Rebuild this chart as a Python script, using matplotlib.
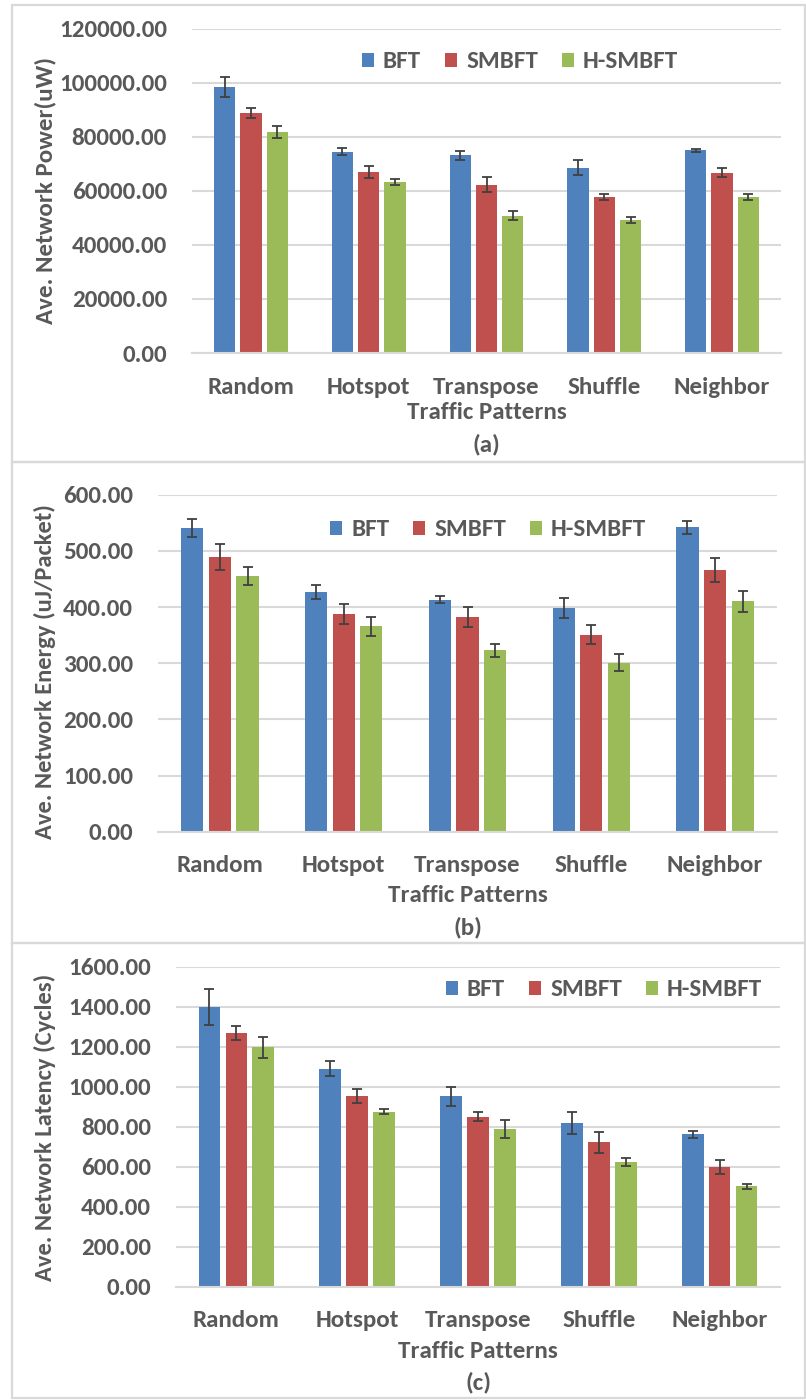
import matplotlib
matplotlib.use("Agg")
import matplotlib.pyplot as plt
from matplotlib import font_manager
from matplotlib.patches import Rectangle, Patch
import numpy as np

# ---- data -------------------------------------------------------------
patterns = ["Random", "Hotspot", "Transpose", "Shuffle", "Neighbor"]
schemes = ["BFT", "SMBFT", "H-SMBFT"]

power_bft = [98300, 74400, 73100, 68600, 75000]
power_smbft = [88800, 67000, 62300, 57800, 66700]
power_hsmbft = [81900, 63300, 50800, 49300, 57600]
power_bft_err = [3700, 1300, 1700, 2900, 500]
power_smbft_err = [1900, 2200, 2800, 1050, 1700]
power_hsmbft_err = [2200, 1100, 1700, 1200, 1150]

energy_bft = [541, 427, 413, 398, 542]
energy_smbft = [489, 388, 382, 351, 466]
energy_hsmbft = [456, 366, 323, 301, 410]
energy_bft_err = [16, 13, 6, 18, 12]
energy_smbft_err = [23, 18, 18, 17, 21]
energy_hsmbft_err = [16, 17, 12, 15, 18]

latency_bft = [1400, 1090, 952, 820, 762]
latency_smbft = [1267, 955, 850, 722, 600]
latency_hsmbft = [1197, 875, 788, 623, 502]
latency_bft_err = [90, 37, 48, 54, 18]
latency_smbft_err = [35, 36, 23, 53, 34]
latency_hsmbft_err = [52, 12, 46, 20, 12]

power_ticks = [0, 20000, 40000, 60000, 80000, 100000, 120000]
energy_ticks = [0, 100, 200, 300, 400, 500, 600]
latency_ticks = [0, 200, 400, 600, 800, 1000, 1200, 1400, 1600]

# ---- style ------------------------------------------------------------
COLORS = ["#4F81BD", "#C0504D", "#9BBB59"]
TEXT = "#595959"
GRID = "#D9D9D9"
ERR = "#404040"

available = {f.name for f in font_manager.fontManager.ttflist}
narrow_choices = [("Carlito", 18), ("Liberation Sans Narrow", 19),
                  ("Roboto Condensed", 17.5), ("Lato", 16), ("DejaVu Sans", 14)]
for name, size in narrow_choices:
    if name in available:
        NARROW, NSIZE = name, size
        break

W, H = 806, 1400
fig = plt.figure(figsize=(W / 100, H / 100), dpi=100)
fig.patch.set_facecolor("white")


def fx(px):
    return px / W


def fy(py):
    return 1 - py / H


def panel(box, ax_box, values, errors, ticks, ylabel, ylabel_y, ylabel_size,
          legend_xy, xlabel_y, letter, letter_y):
    # outer frame of the panel
    top, bottom = box
    fig.add_artist(Rectangle((fx(12), fy(bottom)), fx(805) - fx(12),
                             fy(top) - fy(bottom), transform=fig.transFigure,
                             fill=False, edgecolor=GRID, lw=1.6))
    left, right, atop, abot = ax_box
    ax = fig.add_axes([fx(left), fy(abot), fx(right) - fx(left),
                       fy(atop) - fy(abot)])
    x = np.arange(len(patterns))
    width, step = 0.18, 0.223
    for i, (vals, errs) in enumerate(zip(values, errors)):
        ax.bar(x + (i - 1) * step, vals, width, color=COLORS[i],
               yerr=errs, label=schemes[i], zorder=2,
               error_kw=dict(ecolor=ERR, elinewidth=1.3, capsize=3.5,
                             capthick=1.3, zorder=3))
    ax.set_xlim(-0.5, len(patterns) - 0.5)
    ax.set_ylim(ticks[0], ticks[-1])
    ax.set_yticks(ticks)
    ax.set_yticklabels([f"{t:.2f}" for t in ticks], fontfamily=NARROW,
                       fontsize=NSIZE, fontweight="bold", color=TEXT)
    ax.set_xticks(x)
    ax.set_xticklabels(patterns, fontfamily=NARROW, fontsize=NSIZE,
                       fontweight="bold", color=TEXT, va="center")
    ax.tick_params(axis="y", length=0, pad=18)
    ax.tick_params(axis="x", length=0, pad=24.5)
    ax.yaxis.grid(True, color=GRID, lw=1.5, zorder=0)
    ax.set_axisbelow(True)
    for s in ("top", "right", "left"):
        ax.spines[s].set_visible(False)
    ax.spines["bottom"].set_color(GRID)
    ax.spines["bottom"].set_linewidth(1.5)
    ax.set_facecolor("none")

    ax.set_ylabel(ylabel, fontfamily=NARROW, fontsize=ylabel_size,
                  fontweight="bold", color=TEXT, va="center")
    ax.yaxis.set_label_coords(fx(45), fy(ylabel_y), transform=fig.transFigure)
    ax.set_xlabel("Traffic Patterns", fontfamily=NARROW, fontsize=NSIZE,
                  fontweight="bold", color=TEXT, va="center")
    ax.xaxis.set_label_coords(fx((left + right) / 2), fy(xlabel_y),
                              transform=fig.transFigure)
    fig.text(fx((left + right) / 2), fy(letter_y), letter, ha="center",
             va="center", fontfamily=NARROW, fontsize=NSIZE,
             fontweight="bold", color=TEXT)

    handles = [Patch(facecolor=c, edgecolor="none") for c in COLORS]
    ax.legend(handles, schemes, ncol=3, loc="center",
              bbox_to_anchor=(fx(legend_xy[0]), fy(legend_xy[1])),
              bbox_transform=fig.transFigure, frameon=False,
              handlelength=0.5, handleheight=0.5, handletextpad=0.35,
              columnspacing=0.95,
              prop=dict(family=NARROW, size=NSIZE, weight="bold"),
              labelcolor=TEXT)
    return ax


panel((5, 462), (192, 781, 28.7, 353),
      [power_bft, power_smbft, power_hsmbft],
      [power_bft_err, power_smbft_err, power_hsmbft_err],
      power_ticks, "Ave. Network Power(uW)", 190, NSIZE,
      (520, 62), 413, "(a)", 444)

panel((462, 943), (158, 777, 494.7, 831.7),
      [energy_bft, energy_smbft, energy_hsmbft],
      [energy_bft_err, energy_smbft_err, energy_hsmbft_err],
      energy_ticks, "Ave. Network Energy (uJ/Packet)", 672, NSIZE * 0.98,
      (488, 530), 895, "(b)", 927)

panel((943, 1398), (176, 780, 966.7, 1286.7),
      [latency_bft, latency_smbft, latency_hsmbft],
      [latency_bft_err, latency_smbft_err, latency_hsmbft_err],
      latency_ticks, "Ave. Network Latency (Cycles)", 1127, NSIZE * 0.98,
      (604, 990), 1351, "(c)", 1382)

fig.savefig("out.png", dpi=100, facecolor="white")
